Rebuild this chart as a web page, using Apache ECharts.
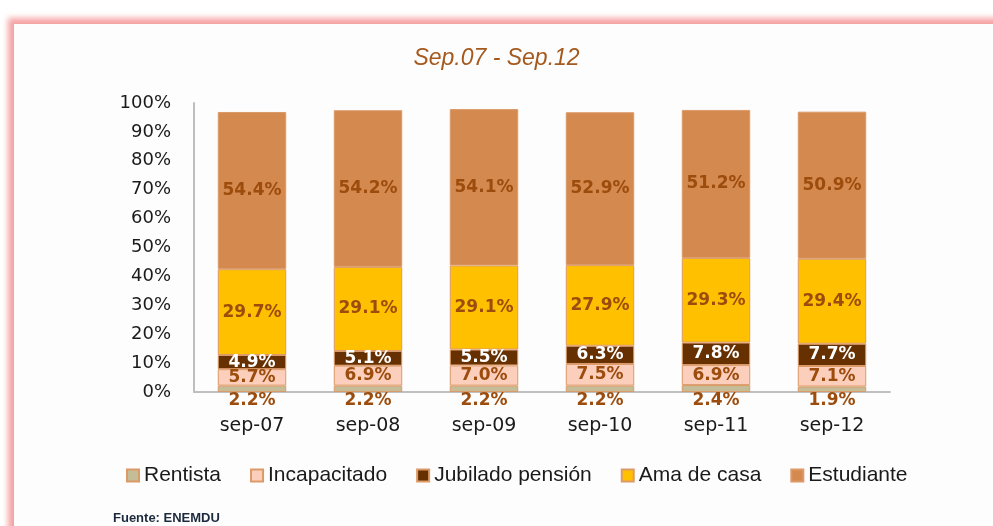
<!DOCTYPE html>
<html>
<head>
<meta charset="utf-8">
<script src="https://cdn.jsdelivr.net/npm/echarts@6/dist/echarts.min.js"></script>
<style>
    html, body { margin: 0; padding: 0; background: #fff; overflow: hidden; }
    .frame {
        position: absolute; left: 14px; top: 24px; width: 1000px; height: 520px;
        background: #fdfdfd;
        box-shadow: 0 0 6px 6px #f5a3a3;
    }
    #chart { position: absolute; left: 0; top: 0; width: 993px; height: 526px; }
</style>
</head>
<body>
<div class="frame"></div>
<div id="chart"></div>
<script>
// datos
var categories = ['sep-07', 'sep-08', 'sep-09', 'sep-10', 'sep-11', 'sep-12']
var rentista = [2.2, 2.2, 2.2, 2.2, 2.4, 1.9]
var incapacitado = [5.7, 6.9, 7.0, 7.5, 6.9, 7.1]
var jubilado = [4.9, 5.1, 5.5, 6.3, 7.8, 7.7]
var amaDeCasa = [29.7, 29.1, 29.1, 27.9, 29.3, 29.4]
var estudiante = [54.4, 54.2, 54.1, 52.9, 51.2, 50.9]

var labelFont = 'DejaVu Sans'
var textFont = '"Liberation Sans", sans-serif'

function pct(p) { return p.value.toFixed(1) + '%' }

function serie(name, data, color, labelColor, position) {
    return {
        name: name,
        type: 'bar',
        stack: 'total',
        barWidth: '59%',
        data: data,
        itemStyle: { color: color, borderColor: '#dc9a68', borderWidth: 1 },
        label: {
            show: true,
            position: position || 'inside',
            distance: 0,
            formatter: pct,
            color: labelColor,
            fontFamily: labelFont,
            fontWeight: 'bold',
            fontSize: 17
        }
    }
}

var myChart = echarts.init(document.getElementById('chart'))
myChart.setOption({
    animation: false,
    title: [
        {
            text: 'Sep.07 - Sep.12',
            left: 'center',
            top: 42,
            textStyle: { color: '#a5591c', fontStyle: 'italic', fontWeight: 'normal', fontSize: 23, fontFamily: textFont }
        },
        {
            text: 'Fuente: ENEMDU',
            left: 108,
            top: 507,
            textStyle: { color: '#1d2a3e', fontWeight: 'bold', fontSize: 13, fontFamily: textFont }
        }
    ],
    grid: { left: 194, right: 103, top: 103, bottom: 134 },
    legend: {
        bottom: 35,
        left: 121,
        itemWidth: 12,
        itemHeight: 12,
        itemGap: 29,
        icon: 'rect',
        textStyle: { fontSize: 21, color: '#1a1a1a', fontFamily: textFont },
        data: ['Rentista', 'Incapacitado', 'Jubilado pensión', 'Ama de casa', 'Estudiante']
    },
    xAxis: {
        type: 'category',
        data: categories,
        axisLine: { lineStyle: { color: '#bfbfbf', width: 2 } },
        axisTick: { show: false },
        axisLabel: { margin: 25, color: '#1a1a1a', fontSize: 19, fontFamily: labelFont }
    },
    yAxis: {
        type: 'value',
        min: 0,
        max: 100,
        interval: 10,
        axisLine: { show: true, lineStyle: { color: '#bfbfbf', width: 2 } },
        axisTick: { show: false },
        splitLine: { show: false },
        axisLabel: { formatter: '{value}%', margin: 23, color: '#1a1a1a', fontSize: 18, fontFamily: labelFont }
    },
    series: [
        serie('Rentista', rentista, '#c4bd97', '#9c4c0c', 'bottom'),
        serie('Incapacitado', incapacitado, '#fccfbd', '#9c4c0c'),
        serie('Jubilado pensión', jubilado, '#673000', '#ffffff'),
        serie('Ama de casa', amaDeCasa, '#ffc000', '#9c4c0c'),
        serie('Estudiante', estudiante, '#d4894f', '#9c4c0c')
    ]
})
window.addEventListener('resize', function () {
    myChart.resize()
})
</script>
</body>
</html>
